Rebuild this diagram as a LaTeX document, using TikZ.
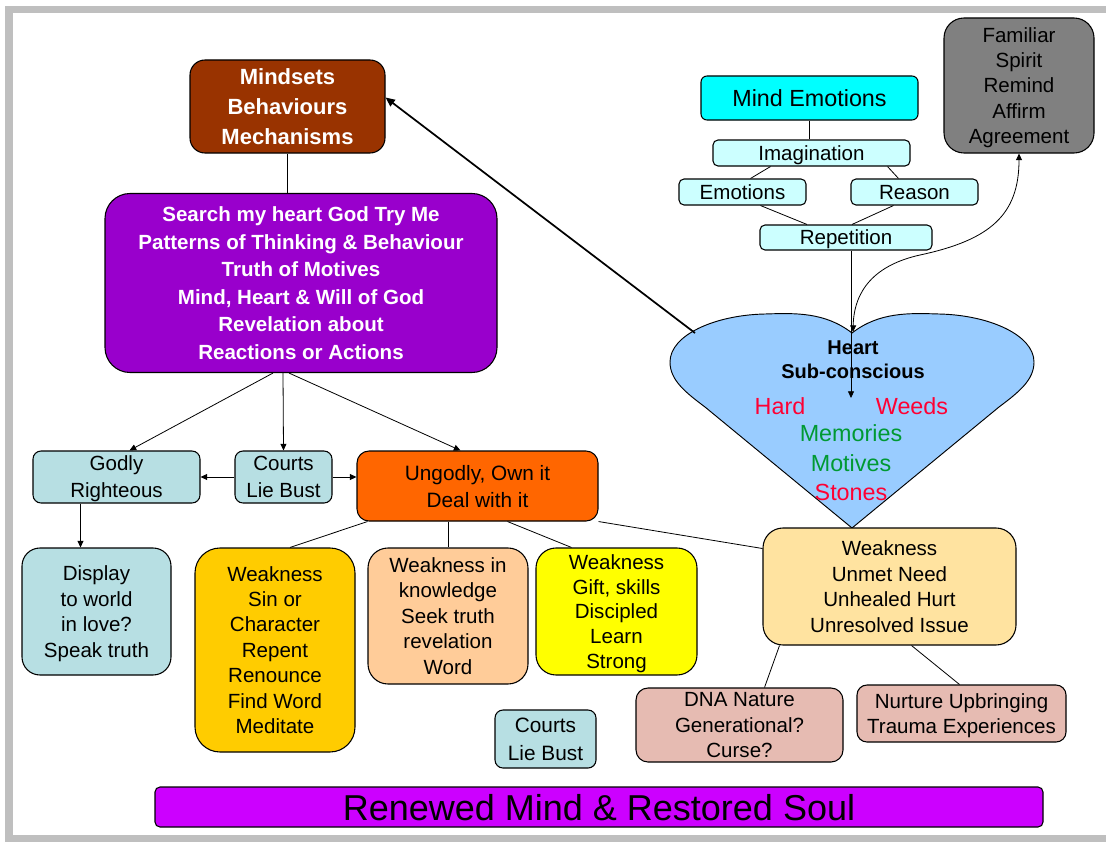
\documentclass[tikz,border=0pt]{standalone}
\usepackage{fontspec}
\setmainfont{Liberation Sans}
\usetikzlibrary{arrows.meta,calc}
\definecolor{framegray}{HTML}{BFBFBF}
\definecolor{cbrown}{HTML}{993300}
\definecolor{cpurple}{HTML}{9900CC}
\definecolor{ccyan}{HTML}{00FFFF}
\definecolor{clcyan}{HTML}{CCFFFF}
\definecolor{cgray}{HTML}{808080}
\definecolor{cheart}{HTML}{99CCFF}
\definecolor{clblue}{HTML}{B7DFE3}
\definecolor{corange}{HTML}{FF6600}
\definecolor{cgold}{HTML}{FFCC00}
\definecolor{cpeach}{HTML}{FFCC99}
\definecolor{cyellow}{HTML}{FFFF00}
\definecolor{clorange}{HTML}{FFE3A0}
\definecolor{crose}{HTML}{E6BBB2}
\definecolor{cmagenta}{HTML}{CC00FF}
\definecolor{cred}{HTML}{FF0033}
\definecolor{cgreen}{HTML}{009933}
\begin{document}
\begin{tikzpicture}[x=0.75pt,y=-0.75pt,
  bx/.style={draw=black, line width=0.8pt, align=center, inner sep=0pt, text=black,
    text depth=0pt, font=\fontsize{15.4}{19.1}\selectfont},
  bw/.style={minimum width=#1*0.75pt},
  bh/.style={minimum height=#1*0.75pt},
  rc/.style={rounded corners=#1*0.75pt},
  ln/.style={draw=black, line width=0.6pt},
  arr/.style={ln, -{Triangle[length=5pt,width=4.5pt]}},
  dblarr/.style={ln, {Triangle[length=5pt,width=4.5pt]}-{Triangle[length=5pt,width=4.5pt]}},
]
\useasboundingbox (0,0) rectangle (1106,842);
\fill[white] (0,0) rectangle (1106,842);
% frame
\fill[framegray] (5,6) rectangle (1106,13);
\fill[framegray] (5,6) rectangle (13,842);
\fill[framegray] (5,835) rectangle (1106,842);

% heart
\draw[fill=cheart, line width=0.7pt]
  (852,333) .. controls (825,312) and (795,313) .. (765,314)
  .. controls (715,315) and (670,335) .. (670,362)
  .. controls (670,380) and (685,392) .. (705,407)
  -- (852,528)
  -- (999,407)
  .. controls (1019,392) and (1034,380) .. (1034,362)
  .. controls (1034,335) and (989,315) .. (939,314)
  .. controls (909,313) and (879,312) .. (852,333) -- cycle;
\coordinate (notch) at (853,332);
\coordinate (hl) at (695,333);
\coordinate (hc) at (851,398);
\node[align=center, font=\bfseries\fontsize{15}{18}\selectfont] (htitle) at (853,360) {Heart\\Sub-conscious};
\node[text=cred, font=\fontsize{17.5}{22}\selectfont] (hard) at (780,406) {Hard};
\node[text=cred, font=\fontsize{17.5}{22}\selectfont] (weeds) at (912,406) {Weeds};
\node[align=center, font=\fontsize{17.5}{22.1}\selectfont] (hlist) at (851,463)
  {\textcolor{cgreen}{Memories}\\\textcolor{cgreen}{Motives}\\\textcolor{cred}{Stones}};

% boxes
\node[bx, fill=cbrown, text=white, rc=15, bw=195, bh=93,
  font=\bfseries\fontsize{16.5}{22.5}\selectfont] (mind) at (287.5,106.5)
  {Mindsets\\Behaviours\\Mechanisms};
\node[bx, fill=cpurple, text=white, rc=25, bw=392, bh=179,
  font=\bfseries\fontsize{15.4}{20.6}\selectfont] (purple) at (301,283)
  {Search my heart God Try Me\\Patterns of Thinking \& Behaviour\\Truth of Motives\\Mind, Heart \& Will of God\\Revelation about\\Reactions or Actions};
\node[bx, fill=ccyan, rc=6, bw=217, bh=44, font=\fontsize{17.5}{21}\selectfont] (memo) at (809.5,98) {Mind Emotions};
\node[bx, fill=clcyan, rc=5, bw=197, bh=26] (imag) at (811.5,153) {Imagination};
\node[bx, fill=clcyan, rc=5, bw=127, bh=26] (emo) at (742.5,192) {Emotions};
\node[bx, fill=clcyan, rc=5, bw=127, bh=26] (rea) at (914.5,192) {Reason};
\node[bx, fill=clcyan, rc=5, bw=172, bh=25] (rep) at (846,237.5) {Repetition};
\node[bx, fill=cgray, rc=20, bw=150, bh=135] (fam) at (1019,85.5)
  {Familiar\\Spirit\\Remind\\Affirm\\Agreement};
\node[bx, fill=clblue, rc=8, bw=167, bh=52, font=\fontsize{15.4}{20.2}\selectfont] (godly) at (116.5,477) {Godly\\Righteous};
\node[bx, fill=clblue, rc=8, bw=97, bh=52, font=\fontsize{15.4}{20.2}\selectfont] (courts) at (283.5,477) {Courts\\Lie Bust};
\node[bx, fill=corange, rc=12, bw=241, bh=70, font=\fontsize{15.6}{20.2}\selectfont] (ungodly) at (477.5,486) {Ungodly, Own it\\Deal with it};
\node[bx, fill=clblue, rc=18, bw=149, bh=127] (display) at (96.5,611.5)
  {Display\\to world\\in love?\\Speak truth};
\node[bx, fill=cgold, rc=25, bw=160, bh=204] (sin) at (275,650)
  {Weakness\\Sin or\\Character\\Repent\\Renounce\\Find Word\\Meditate};
\node[bx, fill=cpeach, rc=20, bw=160, bh=136] (know) at (448,616)
  {Weakness in\\knowledge\\Seek truth\\revelation\\Word};
\node[bx, fill=cyellow, rc=20, bw=161, bh=127, font=\fontsize{15.4}{18.4}\selectfont] (gift) at (616.5,611.5)
  {Weakness\\Gift, skills\\Discipled\\Learn\\Strong};
\node[bx, fill=clorange, rc=20, bw=253, bh=117] (unmet) at (889.5,586.5)
  {Weakness\\Unmet Need\\Unhealed Hurt\\Unresolved Issue};
\node[bx, fill=crose, rc=12, bw=207, bh=74] (dna) at (739.5,725)
  {DNA Nature\\Generational?\\Curse?};
\node[bx, fill=crose, rc=10, bw=209, bh=57] (nurt) at (961.5,713.5)
  {Nurture Upbringing\\Trauma Experiences};
\node[bx, fill=clblue, rc=8, bw=101, bh=58, font=\fontsize{15.6}{21}\selectfont] (courtsb) at (545.5,739)
  {Courts\\Lie Bust};
\node[bx, fill=cmagenta, rc=5, bw=888, bh=40, font=\fontsize{27}{30}\selectfont] (banner) at (599,807)
  {Renewed Mind \& Restored Soul};

% connectors
\draw[ln] (mind.south) -- (mind.south |- purple.north);
\draw[ln] (memo.south) -- (memo.south |- imag.north);
\draw[ln] ($(imag.south)+(-41,0)$) -- ($(emo.north)+(8,0)$);
\draw[ln] ($(imag.south)+(76,0)$) -- ($(rea.north)+(-16,0)$);
\draw[ln] ($(emo.south)+(18,0)$) -- ($(rep.north)+(-39,0)$);
\draw[ln] ($(rea.south)+(-21,0)$) -- ($(rep.north)+(6,0)$);
\draw[arr] ($(rep.south)+(5,0)$) -- (hc);
\draw[dblarr] (notch) .. controls (854,290) and (875,265) .. (920,255)
  .. controls (990,240) and (1019,215) .. (fam.south);
\draw[ln, line width=1.3pt, -{Triangle[length=7pt,width=6pt]}] (hl) -- ($(mind.east)+(0,-9)$);

\draw[arr] ($(purple.south)+(-28,0)$) -- ($(godly.north)+(13,0)$);
\draw[arr] ($(purple.south)+(-18,0)$) -- (courts.north);
\draw[arr] ($(purple.south)+(-12,0)$) -- ($(ungodly.north)+(-17,0)$);
\draw[arr] (courts.west) -- (godly.east);
\draw[arr] (courts.east) -- (courts.east -| ungodly.west);
\draw[arr] ($(godly.south)+(-36,0)$) -- ($(display.north)+(-16,0)$);
\draw[ln] ($(ungodly.south)+(-110,0)$) -- ($(sin.north)+(15,0)$);
\draw[ln] ($(ungodly.south)+(-29.5,0)$) -- (know.north);
\draw[ln] ($(ungodly.south)+(30,0)$) -- ($(gift.north)+(-45,0)$);
\draw[ln] (ungodly.south east) -- ($(unmet.west)+(0,-38)$);
\draw[ln] ($(unmet.south)+(-110,0)$) -- ($(dna.north)+(25,0)$);
\draw[ln] ($(unmet.south)+(22,0)$) -- ($(nurt.north)+(-2,0)$);
\end{tikzpicture}
\end{document}
